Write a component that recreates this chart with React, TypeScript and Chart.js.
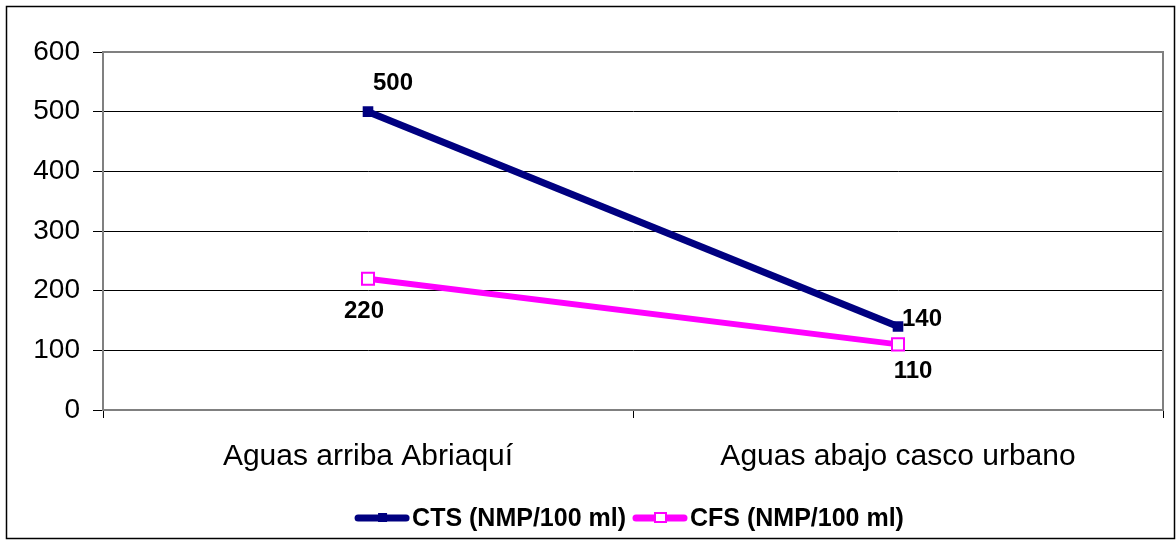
import React, { useEffect, useRef } from "react";
import { Chart, registerables } from "chart.js";

Chart.register(...registerables);

const categories = ["Aguas arriba Abriaquí", "Aguas abajo casco urbano"];
const seriesNames = ["CTS (NMP/100 ml)", "CFS (NMP/100 ml)"];
const ctsValues = [500, 140];
const cfsValues = [220, 110];
const yMin = 0;
const yMax = 600;
const yStep = 100;

// label offsets (style only, pixels relative to each point)
const ctsLabelOffsets = [[25, -28], [24, -7]];
const cfsLabelOffsets = [[-4, 33], [15, 27]];

const NAVY = "#000080";
const MAGENTA = "#FF00FF";
const FONT = '"Liberation Sans", Arial, sans-serif';

const framePlugin = {
  id: "frame",
  beforeDatasetsDraw(chart: any) {
    const { ctx, chartArea } = chart;
    ctx.save();
    ctx.strokeStyle = "#808080";
    ctx.lineWidth = 2;
    ctx.beginPath();
    ctx.moveTo(chartArea.left, chartArea.top);
    ctx.lineTo(chartArea.right, chartArea.top);
    ctx.lineTo(chartArea.right, chartArea.bottom);
    ctx.stroke();
    ctx.restore();
  },
  afterDraw(chart: any) {
    const { ctx } = chart;
    ctx.save();
    ctx.strokeStyle = "#000000";
    ctx.lineWidth = 1.5;
    ctx.strokeRect(6.5, 6.5, 1168, 532);
    ctx.restore();
  },
};

const labelsPlugin = {
  id: "pointLabels",
  afterDatasetsDraw(chart: any) {
    const { ctx } = chart;
    const offsets = [ctsLabelOffsets, cfsLabelOffsets];
    ctx.save();
    ctx.font = `bold 24px ${FONT}`;
    ctx.fillStyle = "#000";
    ctx.textAlign = "center";
    ctx.textBaseline = "middle";
    chart.data.datasets.forEach((ds: any, di: number) => {
      const meta = chart.getDatasetMeta(di);
      meta.data.forEach((pt: any, i: number) => {
        const [dx, dy] = offsets[di][i];
        ctx.fillText(String(ds.data[i]), pt.x + dx, pt.y + dy);
      });
    });
    ctx.restore();
  },
};

const legendPlugin = {
  id: "customLegend",
  afterDraw(chart: any) {
    const { ctx, chartArea } = chart;
    const y = 518;
    const lineLen = 56;
    const gap = 2;
    const itemGap = 6;
    ctx.save();
    ctx.font = `bold 25px ${FONT}`;
    const widths = seriesNames.map((n) => ctx.measureText(n).width);
    const total = widths.reduce((a, w) => a + lineLen + gap + w, 0) + itemGap * (seriesNames.length - 1);
    let x = (chartArea.left + chartArea.right) / 2 - total / 2 - 4;
    const colors = [NAVY, MAGENTA];
    seriesNames.forEach((name, i) => {
      ctx.strokeStyle = colors[i];
      ctx.lineWidth = 7;
      ctx.lineCap = "round";
      ctx.beginPath();
      ctx.moveTo(x + 4, y);
      ctx.lineTo(x + lineLen - 4, y);
      ctx.stroke();
      const cx = x + lineLen / 2;
      if (i === 0) {
        ctx.fillStyle = NAVY;
        ctx.fillRect(cx - 4, y - 5, 9, 9);
      } else {
        ctx.fillStyle = "#ffffff";
        ctx.fillRect(cx - 5, y - 5, 11, 9);
        ctx.lineWidth = 2;
        ctx.lineCap = "butt";
        ctx.strokeStyle = MAGENTA;
        ctx.strokeRect(cx - 5, y - 5, 11, 9);
      }
      ctx.fillStyle = "#000";
      ctx.textAlign = "left";
      ctx.textBaseline = "middle";
      ctx.fillText(name, x + lineLen + gap, y + 1);
      x += lineLen + gap + widths[i] + itemGap;
    });
    ctx.restore();
  },
};

export default function App() {
  const canvasRef = useRef<HTMLCanvasElement | null>(null);

  useEffect(() => {
    if (!canvasRef.current) return;
    const chart = new Chart(canvasRef.current, {
      type: "line",
      data: {
        labels: categories,
        datasets: [
          {
            label: seriesNames[0],
            data: ctsValues,
            borderColor: NAVY,
            backgroundColor: NAVY,
            borderWidth: 7,
            pointStyle: "rect",
            pointRadius: 7.5,
            pointBorderWidth: 0,
            pointBackgroundColor: NAVY,
            pointBorderColor: NAVY,
          },
          {
            label: seriesNames[1],
            data: cfsValues,
            borderColor: MAGENTA,
            backgroundColor: MAGENTA,
            borderWidth: 6,
            pointStyle: "rect",
            pointRadius: 8.5,
            pointBorderWidth: 2,
            pointBackgroundColor: "#ffffff",
            pointBorderColor: MAGENTA,
          },
        ],
      },
      options: {
        responsive: false,
        animation: false,
        layout: { padding: { top: 52, right: 13, left: 0, bottom: 0 } },
        plugins: {
          legend: { display: false },
          tooltip: { enabled: false },
        },
        scales: {
          x: {
            offset: true,
            afterFit: (scale: any) => {
              scale.height = 130;
            },
            grid: {
              display: true,
              drawOnChartArea: false,
              offset: true,
              tickLength: 8,
              color: "#000000",
              lineWidth: 1,
            },
            border: { display: true, color: "#808080", width: 2 },
            ticks: {
              color: "#000000",
              font: { family: FONT, size: 30 },
              padding: 21,
              maxRotation: 0,
            },
          },
          y: {
            min: yMin,
            max: yMax,
            afterFit: (scale: any) => {
              scale.width = 103;
            },
            grid: {
              color: "#000000",
              lineWidth: 1,
              tickLength: 10,
            },
            border: { display: true, color: "#808080", width: 2 },
            ticks: {
              stepSize: yStep,
              color: "#000000",
              font: { family: FONT, size: 28 },
              padding: 13,
            },
          },
        },
      },
      plugins: [framePlugin, labelsPlugin, legendPlugin],
    } as any);
    return () => chart.destroy();
  }, []);

  return (
    <div style={{ position: "absolute", left: 0, top: 0, width: 1176, height: 540, background: "#fff" }}>
      <canvas ref={canvasRef} width={1176} height={540} />
    </div>
  );
}
